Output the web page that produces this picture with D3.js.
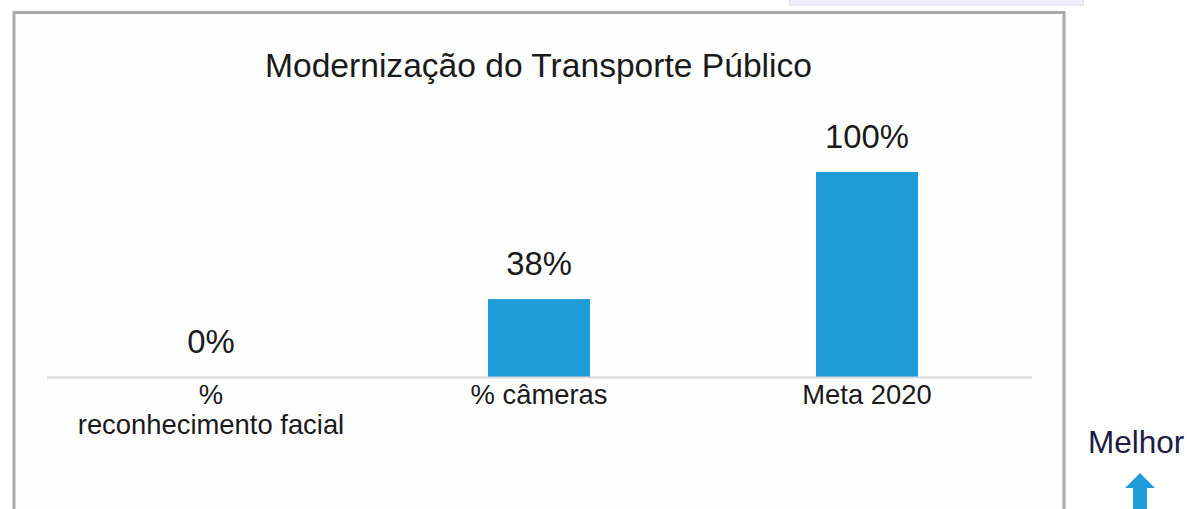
<!DOCTYPE html>
<html>
  <head>
    <meta charset="UTF-8" />
    <style>
      body { margin: 0; background: #ffffff; }
      svg { display: block; font-family: Arial, "Liberation Sans", sans-serif; }
    </style>
  </head>
  <body>
    <svg></svg>
    <script src="https://d3js.org/d3.v7.min.js"></script>
    <script>
      // data
      const categories = ["% reconhecimento facial", "% câmeras", "Meta 2020"];
      const labelLines = [["%", "reconhecimento facial"], ["% câmeras"], ["Meta 2020"]];
      const values = [0, 38, 100];
      const title = "Modernização do Transporte Público";

      let width = 1187,
        height = 509;

      let svg = d3.select("svg").attr("width", width).attr("height", height);

      // faint box cut off at the top
      svg.append("rect")
        .attr("x", 789.5).attr("y", -5)
        .attr("width", 294).attr("height", 10)
        .attr("fill", "#eeeefc")
        .attr("stroke", "#dcdcf2");

      // grey frame round the chart
      svg.append("rect")
        .attr("x", 14).attr("y", 12.5)
        .attr("width", 1050).attr("height", 520)
        .attr("fill", "#fefefe")
        .attr("stroke", "#aaaaaa")
        .attr("stroke-width", 3);

      let x = d3.scaleBand()
        .domain(categories)
        .range([47, 1031])
        .paddingInner(0.689)
        .paddingOuter(0.3445);

      let y = d3.scaleLinear()
        .domain([0, 100])
        .range([377, 172]);

      svg.append("text")
        .attr("x", 538.5)
        .attr("y", 77)
        .attr("text-anchor", "middle")
        .attr("font-size", 33.6)
        .attr("fill", "#1a1a1a")
        .text(title);

      svg.append("g")
        .selectAll("text")
        .data(values)
        .join("text")
        .attr("x", (d, i) => x(categories[i]) + x.bandwidth() / 2)
        .attr("y", (d) => y(d) - 24)
        .attr("text-anchor", "middle")
        .attr("font-size", 32.8)
        .attr("fill", "#1a1a1a")
        .text((d) => d + "%");

      svg.append("g")
        .selectAll("rect")
        .data(values)
        .join("rect")
        .attr("x", (d, i) => x(categories[i]))
        .attr("y", (d) => y(d))
        .attr("width", x.bandwidth())
        .attr("height", (d) => y(0) - y(d))
        .attr("fill", "#1e9cd8");

      // baseline
      svg.append("line")
        .attr("x1", 47).attr("x2", 1032)
        .attr("y1", y(0) + 0.5).attr("y2", y(0) + 0.5)
        .attr("stroke", "#d9d9d9")
        .attr("stroke-width", 2);

      let ticks = svg.append("g")
        .selectAll("text")
        .data(categories)
        .join("text")
        .attr("text-anchor", "middle")
        .attr("font-size", 27.4)
        .attr("fill", "#1a1a1a");

      ticks.selectAll("tspan")
        .data((d, i) => labelLines[i].map((t) => ({ t: t, c: d })))
        .join("tspan")
        .attr("x", (d) => x(d.c) + x.bandwidth() / 2)
        .attr("y", (d, j) => 404 + j * 30)
        .text((d) => d.t);

      // "Melhor" with arrow
      svg.append("text")
        .attr("x", 1088)
        .attr("y", 453)
        .attr("font-size", 31.5)
        .attr("fill", "#1c1c44")
        .text("Melhor");

      svg.append("path")
        .attr("d", "M1140,473 L1155,488 L1147,488 L1147,509 L1133,509 L1133,488 L1125,488 Z")
        .attr("fill", "#1e9cd8");
    </script>
  </body>
</html>
